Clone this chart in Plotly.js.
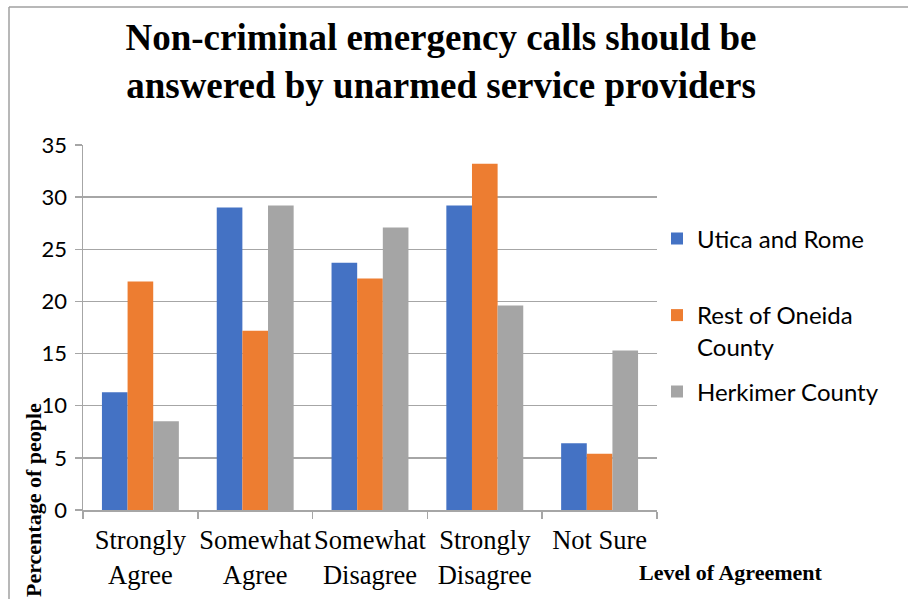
<!DOCTYPE html>
<html>
<head>
<meta charset="utf-8">
<script src="https://cdn.plot.ly/plotly-3.0.1.min.js"></script>
<style>html,body{margin:0;padding:0;background:#fff;}#chart{width:908px;height:599px;}</style>
</head>
<body>
<div id="chart"></div>
<script>
const categories = ["Strongly<br>Agree", "Somewhat<br>Agree", "Somewhat<br>Disagree", "Strongly<br>Disagree", "Not Sure"];
const seriesNames = ["Utica and Rome", "Rest of Oneida<br>County", "Herkimer County"];
const uticaRome = [11.3, 29.0, 23.7, 29.2, 6.4];
const restOneida = [21.9, 17.2, 22.2, 33.2, 5.4];
const herkimer = [8.5, 29.2, 27.1, 19.6, 15.3];
const yTicks = [0, 5, 10, 15, 20, 25, 30, 35];

const colors = ["#4472C4", "#ED7D31", "#A5A5A5"];
const values = [uticaRome, restOneida, herkimer];
const legendIds = ["legend", "legend2", "legend3"];

const traces = values.map((v, i) => ({
  type: "bar",
  x: categories,
  y: v,
  name: seriesNames[i],
  marker: {color: colors[i]},
  legend: legendIds[i],
  showlegend: true,
  hoverinfo: "y"
}));

// plot area pixels: x 83..657, y 145..510
const L = 83, R = 657, T = 145, B = 510;
const px = x => (x - L) / (R - L);
const py = y => (B - y) / (B - T);

const legendFont = {family: "Lato, 'Open Sans', sans-serif", size: 24, color: "#000"};
const legendBase = {
  x: px(657), xanchor: "left",
  yanchor: "middle",
  bgcolor: "rgba(0,0,0,0)",
  font: legendFont,
  itemwidth: 30,
  valign: "top"
};

const layout = {
  width: 908, height: 599,
  margin: {l: L, r: 908 - R, t: T, b: 599 - B},
  paper_bgcolor: "#fff", plot_bgcolor: "#fff",
  showlegend: true,
  title: {
    text: "Non-criminal emergency calls should be<br>answered by unarmed service providers",
    font: {family: "'Liberation Serif', 'Times New Roman', serif", size: 37, color: "#000", weight: "bold"},
    x: 441 / 908, xref: "container", xanchor: "center",
    y: 1 - 50 / 599, yref: "container", yanchor: "middle"
  },
  barmode: "group",
  bargap: 0.33,
  bargroupgap: 0,
  xaxis: {
    type: "category",
    tickson: "boundaries",
    tickangle: 0,
    ticks: "outside", ticklen: 7, tickcolor: "#A6A6A6", tickwidth: 1.5,
    showline: true, linecolor: "#A6A6A6", linewidth: 1.5,
    showgrid: false,
    tickfont: {family: "'Liberation Serif', 'Times New Roman', serif", size: 26.5, color: "#000"},
    ticklabelstandoff: 6,
    fixedrange: true
  },
  yaxis: {
    range: [0, 35],
    tickvals: yTicks,
    ticktext: yTicks.map(String),
    ticks: "outside", ticklen: 7, tickcolor: "#A6A6A6", tickwidth: 1.5,
    showline: true, linecolor: "#A6A6A6", linewidth: 1.5,
    showgrid: true, gridcolor: "#A6A6A6", gridwidth: 1.5,
    zeroline: false,
    tickfont: {family: "Lato, 'Open Sans', sans-serif", size: 22, color: "#000"},
    ticklabelstandoff: 3,
    fixedrange: true
  },
  legend: Object.assign({}, legendBase, {y: py(239)}),
  legend2: Object.assign({}, legendBase, {y: py(331)}),
  legend3: Object.assign({}, legendBase, {y: py(392)}),
  annotations: [
    {
      text: "Percentage of people", textangle: -90,
      xref: "paper", yref: "paper", x: px(33), y: py(500),
      xanchor: "center", yanchor: "middle", showarrow: false,
      font: {family: "'Liberation Serif', 'Times New Roman', serif", size: 22, color: "#000", weight: "bold"}
    },
    {
      text: "Level of Agreement",
      xref: "paper", yref: "paper", x: px(731), y: py(572),
      xanchor: "center", yanchor: "middle", showarrow: false,
      font: {family: "'Liberation Serif', 'Times New Roman', serif", size: 22, color: "#000", weight: "bold"}
    }
  ],
  shapes: [
    {type: "line", xref: "paper", yref: "paper", x0: px(9), x1: px(9), y0: py(7), y1: py(605), line: {color: "#A0A0A0", width: 1.5}},
    {type: "line", xref: "paper", yref: "paper", x0: px(9), x1: px(915), y0: py(7), y1: py(7), line: {color: "#A0A0A0", width: 1.5}}
  ]
};

Plotly.newPlot("chart", traces, layout, {displayModeBar: false, staticPlot: true});
</script>
</body>
</html>
